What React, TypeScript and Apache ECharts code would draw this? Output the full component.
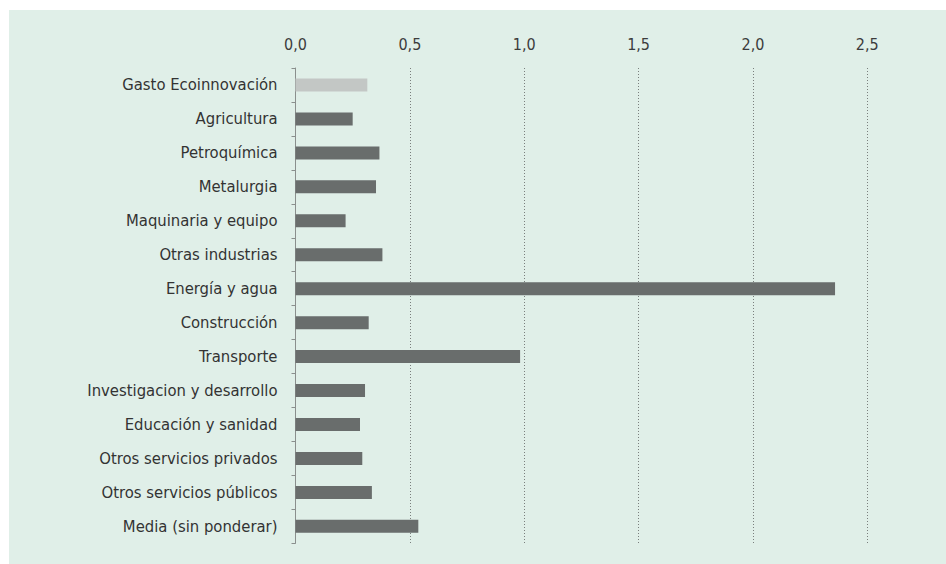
import React, { useEffect, useRef } from "react";
import * as echarts from "echarts";

const categories = [
  "Gasto Ecoinnovación",
  "Agricultura",
  "Petroquímica",
  "Metalurgia",
  "Maquinaria y equipo",
  "Otras industrias",
  "Energía y agua",
  "Construcción",
  "Transporte",
  "Investigacion y desarrollo",
  "Educación y sanidad",
  "Otros servicios privados",
  "Otros servicios públicos",
  "Media (sin ponderar)",
];

const values = [0.314, 0.25, 0.367, 0.352, 0.219, 0.38, 2.359, 0.32, 0.982, 0.304, 0.282, 0.292, 0.334, 0.537];

const xTicks = { min: 0, max: 2.5, interval: 0.5 };

const FONT = "'Liberation Sans Narrow', 'DejaVu Sans Condensed', 'Roboto Condensed', sans-serif";

export default function App() {
  const ref = useRef<HTMLDivElement>(null);
  useEffect(() => {
    if (!ref.current) return;
    const chart = echarts.init(ref.current, undefined, { renderer: "svg" });
    chart.setOption({
      animation: false,
      backgroundColor: "#ffffff",
      graphic: [
        {
          type: "rect",
          z: -10,
          silent: true,
          shape: { x: 9, y: 10, width: 937, height: 554 },
          style: { fill: "#e0efe8" },
        },
      ],
      grid: { left: 295.5, right: 78.7, top: 68, bottom: 20.7, containLabel: false },
      xAxis: {
        type: "value",
        position: "top",
        min: xTicks.min,
        max: xTicks.max,
        interval: xTicks.interval,
        axisLine: { show: false },
        axisTick: { show: false },
        axisLabel: {
          margin: 16,
          color: "#3c3c3c",
          fontSize: 16,
          fontFamily: FONT,
          formatter: (v: number) => v.toFixed(1).replace(".", ","),
        },
        splitLine: { show: true, lineStyle: { type: [1, 2], color: "#7a7f7d", width: 1 } },
      },
      yAxis: {
        type: "category",
        data: categories,
        inverse: true,
        axisLine: { show: true, lineStyle: { color: "#8a8f8d", width: 1 } },
        axisTick: { show: true, length: 4, lineStyle: { color: "#8a8f8d" } },
        axisLabel: { margin: 18, color: "#333", fontSize: 16.5, fontFamily: FONT },
      },
      series: [
        {
          type: "bar",
          barWidth: 13,
          data: values.map((v, i) =>
            i === 0
              ? { value: v, itemStyle: { color: "#c3c7c5" } }
              : { value: v, itemStyle: { color: "#696d6c" } }
          ),
        },
      ],
    });
    return () => chart.dispose();
  }, []);
  return (
    <div
      ref={ref}
      style={{ position: "fixed", left: 0, top: 0, width: 946, height: 564 }}
    />
  );
}
